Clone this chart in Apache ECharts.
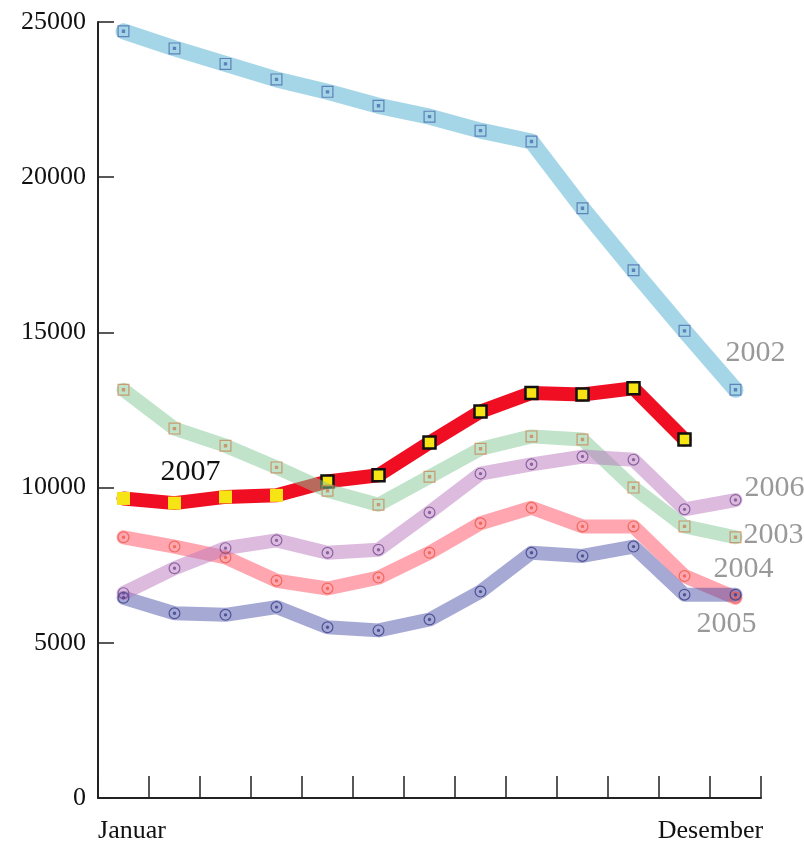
<!DOCTYPE html>
<html lang="no">
<head>
    <meta charset="UTF-8">
    <title>2002 - 2007</title>
    <script src="https://cdn.jsdelivr.net/npm/echarts@6/dist/echarts.min.js"></script>
    <style>
        body { margin: 0; background: #fff; }
        #chart { width: 804px; height: 846px; }
    </style>
</head>
<body>
    <div id="chart"></div>
    <script>
        // x-kategorier (13 punkter, bare første og siste har tekst)
        const months = ['Januar', '', '', '', '', '', '', '', '', '', '', '', 'Desember'];
        const yTicks = [0, 5000, 10000, 15000, 20000, 25000];

        const y2002 = [24700, 24150, 23650, 23150, 22750, 22300, 21950, 21500, 21150, 19000, 17000, 15050, 13150];
        const y2003 = [13150, 11900, 11350, 10650, 9900, 9450, 10350, 11250, 11650, 11550, 10000, 8750, 8400];
        const y2004 = [8400, 8100, 7750, 7000, 6750, 7100, 7900, 8850, 9350, 8750, 8750, 7150, 6450];
        const y2005 = [6450, 5950, 5900, 6150, 5500, 5400, 5750, 6650, 7900, 7800, 8100, 6550, 6550];
        const y2006 = [6600, 7400, 8050, 8300, 7900, 8000, 9200, 10450, 10750, 11000, 10900, 9300, 9600];
        const y2007 = [9650, 9500, 9700, 9750, 10200, 10400, 11450, 12450, 13050, 13000, 13200, 11550];

        const serif = 'Liberation Serif';
        const squareMark = 'path://M0,0H12V12H0Z M1.2,1.2V10.8H10.8V1.2Z M4.3,4.3H7.7V7.7H4.3Z';
        const ringMark = 'path://M6,0A6,6,0,1,1,6,12A6,6,0,1,1,6,0Z M6,1.2A4.8,4.8,0,1,0,6,10.8A4.8,4.8,0,1,0,6,1.2Z M6,4.3A1.7,1.7,0,1,1,6,7.7A1.7,1.7,0,1,1,6,4.3Z';

        // årstall som tekst ved et punkt i serien
        function withLabel(values, name, idx, offset, color) {
            return values.map((v, i) => i !== idx ? v : {
                value: v,
                label: {
                    show: true,
                    formatter: name,
                    position: 'inside',
                    offset: offset,
                    align: 'center',
                    verticalAlign: 'middle',
                    fontFamily: serif,
                    fontSize: 30,
                    color: color
                }
            });
        }

        function yearLine(name, data, color, width, symbol, markColor) {
            return {
                name: name,
                type: 'line',
                data: data,
                symbol: symbol,
                symbolSize: 12,
                showAllSymbol: true,
                itemStyle: { color: markColor },
                lineStyle: { color: color, width: width, cap: 'round', join: 'round' },
                label: { show: false },
                emphasis: { disabled: true }
            };
        }

        const data2007 = y2007.map((v, i) => {
            const item = {
                value: v,
                symbolSize: i < 4 ? 13 : 12,
                itemStyle: i < 4
                    ? { color: '#f7e414', borderWidth: 0 }
                    : { color: '#f7e414', borderColor: '#111', borderWidth: 2.5 }
            };
            if (i === 1) {
                item.label = {
                    show: true, formatter: '2007', position: 'inside', offset: [16, -31],
                    align: 'center', verticalAlign: 'middle',
                    fontFamily: serif, fontSize: 30, color: '#111'
                };
            }
            return item;
        });

        const chart = echarts.init(document.getElementById('chart'));
        chart.setOption({
            animation: false,
            backgroundColor: '#fff',
            grid: { left: 98, right: 43, top: 22, bottom: 48 },
            xAxis: {
                type: 'category',
                data: months,
                boundaryGap: true,
                axisLine: { lineStyle: { color: '#222', width: 2 } },
                axisTick: { show: true, inside: true, length: 22, interval: 0, lineStyle: { color: '#222', width: 1.5 } },
                axisLabel: {
                    interval: 0,
                    margin: 20,
                    formatter: (v, i) => i === 0 ? '{a|' + v + '}' : (v ? '{b|' + v + '}' : ''),
                    rich: {
                        a: { fontFamily: serif, fontSize: 26, color: '#111', padding: [0, 0, 0, 17] },
                        b: { fontFamily: serif, fontSize: 26, color: '#111', padding: [0, 50, 0, 0] }
                    }
                },
                splitLine: { show: false }
            },
            yAxis: {
                type: 'value',
                min: yTicks[0],
                max: yTicks[yTicks.length - 1],
                interval: 5000,
                axisLine: { show: true, lineStyle: { color: '#222', width: 2 } },
                axisTick: { show: true, inside: true, length: 16, lineStyle: { color: '#222', width: 1.5 } },
                axisLabel: { margin: 12, fontFamily: serif, fontSize: 26, color: '#111', formatter: v => String(v) },
                splitLine: { show: false }
            },
            series: [
                {
                    name: '2007',
                    type: 'line',
                    data: data2007,
                    symbol: 'rect',
                    lineStyle: { color: '#ef0e22', width: 14, cap: 'round', join: 'round' },
                    emphasis: { disabled: true },
                    z: 2
                },
                yearLine('2002', withLabel(y2002, '2002', 12, [20, -37], '#999'),
                    'rgba(160,212,230,0.95)', 16, squareMark, 'rgba(70,100,170,0.75)'),
                yearLine('2003', withLabel(y2003, '2003', 12, [38, -2], '#999'),
                    'rgba(130,200,150,0.5)', 14, squareMark, 'rgba(200,130,80,0.75)'),
                yearLine('2004', withLabel(y2004, '2004', 12, [8, -29], '#999'),
                    'rgba(255,70,90,0.48)', 14, ringMark, 'rgba(235,90,70,0.8)'),
                yearLine('2005', withLabel(y2005, '2005', 12, [-9, 29], '#999'),
                    'rgba(70,75,165,0.48)', 14, ringMark, 'rgba(50,55,130,0.75)'),
                yearLine('2006', withLabel(y2006, '2006', 12, [39, -12], '#999'),
                    'rgba(185,120,190,0.5)', 14, ringMark, 'rgba(110,70,140,0.75)')
            ]
        });
    </script>
</body>
</html>
